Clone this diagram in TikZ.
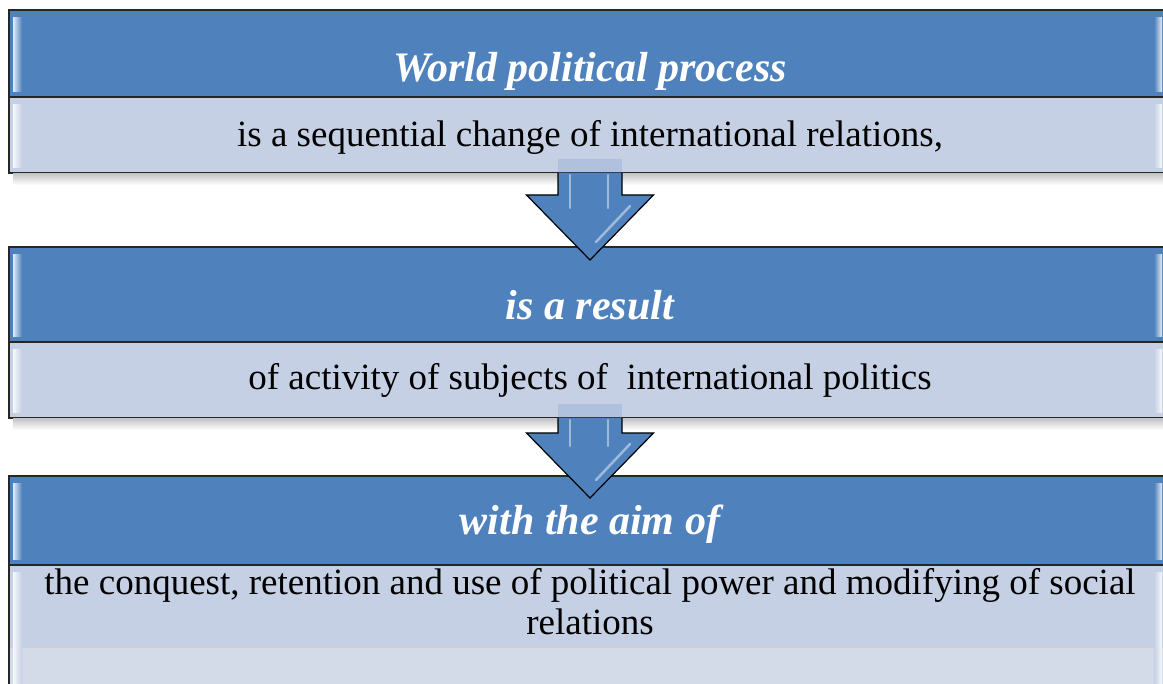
\documentclass[tikz,border=0pt]{standalone}
\usepackage{fontspec}
\setmainfont{Liberation Serif}
\usetikzlibrary{positioning, calc}
\definecolor{headblue}{HTML}{4F81BD}
\definecolor{bodyblue}{HTML}{C5D0E4}
\definecolor{paleblue}{HTML}{D3DAE8}

\begin{document}
\begin{tikzpicture}[
    x=1pt, y=-1pt,
    node distance=0pt,
    header/.style={
        rectangle, draw=black!85, line width=1.2pt, fill=headblue,
        minimum width=1162pt, minimum height=#1, outer sep=0pt, inner sep=0pt,
        text depth=10pt,
        font=\fontsize{42}{46}\selectfont\bfseries\itshape, text=white
    },
    body/.style={
        rectangle, draw=black!85, line width=1.2pt, fill=bodyblue,
        minimum width=1162pt, minimum height=#1, outer sep=0pt, inner sep=0pt,
        text depth=9pt,
        font=\fontsize{37}{40}\selectfont, text=black, align=center
    },
    bodytext/.style={inner sep=0pt, font=\fontsize{37}{40}\selectfont, align=center},
    gloss/.style={left color=white!85!#1, right color=#1},
    shadow/.style={top color=black!22, bottom color=white},
    flow/.style={draw=black, line width=1.2pt, fill=headblue, line join=miter},
    streak/.style={draw=white, line width=2.5pt, opacity=0.45, line cap=round}
]
\useasboundingbox (0,0) rectangle (1163,684);

%% ---- Box 1 ----
\node[header=87pt, text height=67pt] (head1) at (590,53.5) {World political process};
\node[body=76pt, text height=33pt, below=of head1] (body1) {is a sequential change of international relations,};

%% ---- Box 2 ----
\node[header=95pt, text height=61pt, below=74pt of body1] (head2) {is a result};
\node[body=76pt, text height=29pt, below=of head2] (body2) {of activity of subjects of~ international politics};

%% ---- Box 3 ----
\node[header=89pt, text height=39pt, below=58pt of body2] (head3) {with the aim of};
\node[body=160pt, below=of head3] (body3) {};
\fill[paleblue] ($(head3.south west)+(1,83)$) rectangle ($(body3.south east)+(-1,-1)$);
\draw[black!15, line width=1pt] ($(head3.south west)+(1,83)$) -- ($(head3.south east)+(-1,83)$);
\node[bodytext, below=3pt of head3] (aim) {the conquest, retention and use of political power and modifying of social\\relations};

% soft shadows under the closed boxes
\shade[shadow] ($(body1.south west)+(4,1)$) rectangle ($(body1.south east)+(0,12)$);
\shade[shadow] ($(body2.south west)+(4,1)$) rectangle ($(body2.south east)+(0,12)$);

% glossy edges
\foreach \n/\c in {head1/headblue, body1/bodyblue, head2/headblue, body2/bodyblue, head3/headblue, body3/bodyblue} {
    \shade[gloss=\c] ($(\n.north west)+(4,8)$) rectangle ($(\n.south west)+(13,-5)$);
    \shade[left color=\c, right color=white!85!\c] ($(\n.north east)+(-17,8)$) rectangle ($(\n.south east)+(-9,-5)$);
}

%% ---- Arrows between boxes ----
\foreach \src/\dst/\dep in {body1/head2/13, body2/head3/22} {
    \coordinate (base) at (\src.south);
    \coordinate (tip) at ($(\dst.north)+(0,\dep)$);
    \fill[headblue, opacity=0.18] ($(base)+(-32,-14)$) rectangle ($(base)+(32,0)$);
    \draw[flow] ($(base)+(-32,0)$) -- ($(tip)+(-32,-65)$) -- ($(tip)+(-63.5,-65)$)
        -- (tip) -- ($(tip)+(63.5,-65)$) -- ($(tip)+(32,-65)$) -- ($(base)+(32,0)$);
    \draw[streak] ($(base)+(-20,2)$) -- ($(tip)+(-20,-52)$);
    \draw[streak] ($(base)+(18,2)$) -- ($(tip)+(18,-52)$);
    \draw[streak] ($(tip)+(40,-54)$) -- ($(tip)+(6,-18)$);
}

\end{tikzpicture}
\end{document}
